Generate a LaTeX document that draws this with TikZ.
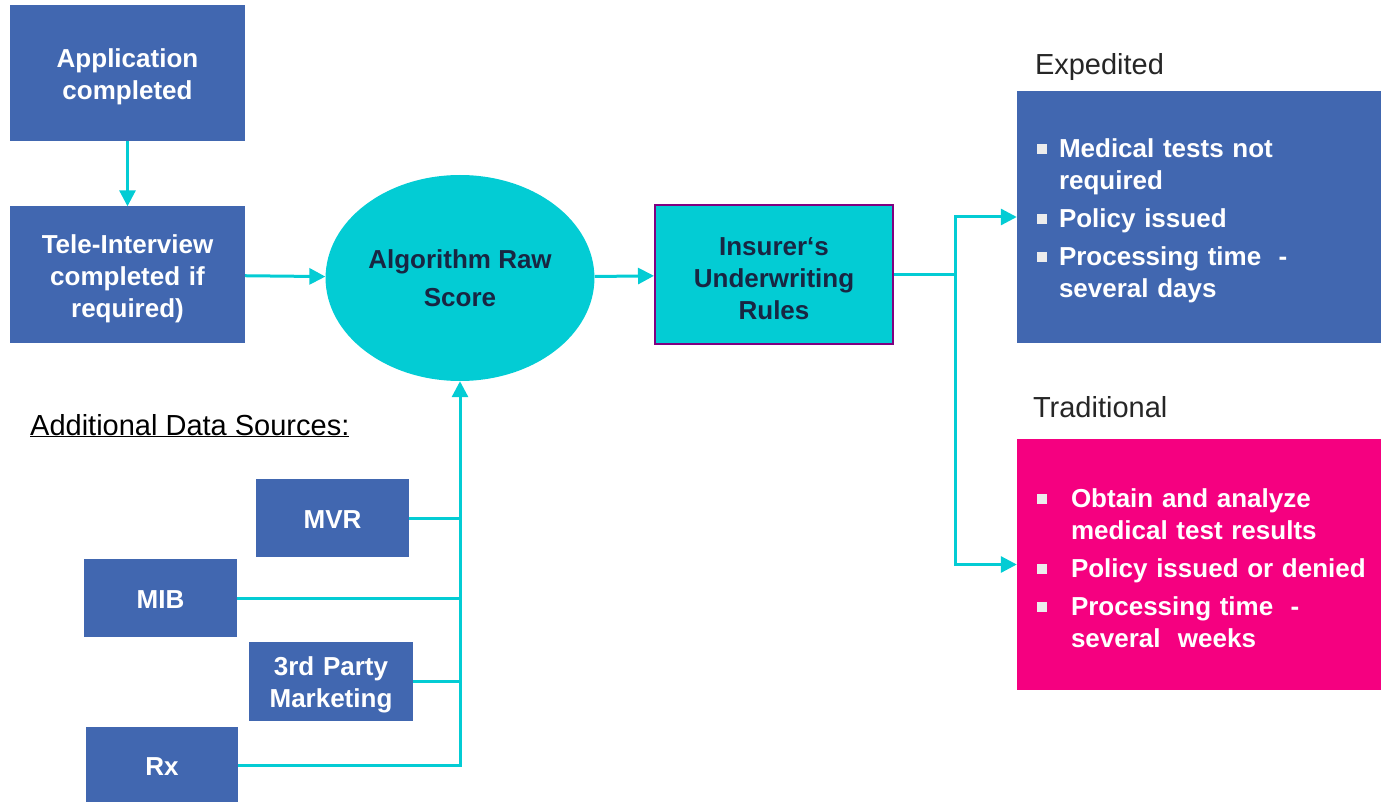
\documentclass[tikz,border=0pt]{standalone}
\usepackage{fontspec}
\setmainfont{Liberation Sans}
\usetikzlibrary{positioning, shapes.geometric, arrows.meta}

\definecolor{boxblue}{RGB}{65,103,176}
\definecolor{aqua}{RGB}{3,204,212}
\definecolor{hotpink}{RGB}{245,0,128}
\definecolor{inktext}{RGB}{24,38,66}
\definecolor{rim}{RGB}{128,0,128}
\definecolor{bulgray}{RGB}{236,236,236}
\definecolor{lblgray}{RGB}{38,38,38}

\newcommand{\sqbul}[1]{\makebox[#1][l]{\hspace*{8pt}\textcolor{bulgray}{\rule[4pt]{10pt}{10pt}}}}

\begin{document}
\begin{tikzpicture}[x = 1pt, y = -1pt,
    every node/.style = { align = center, font = \fontsize{26}{32}\selectfont\bfseries },
    boxtext/.style = { text width = #1, execute at begin node = {\rule[-6pt]{0pt}{33pt}} },
    blk/.style = { fill = boxblue, text = white },
    lbl/.style = { font = \fontsize{29}{34}\selectfont, text = lblgray, inner sep = 0pt },
    pts/.style = { boxtext = 340pt, text = white, align = left, inner xsep = 12pt, minimum width = 364pt },
    link/.style = { draw = aqua, line width = 3pt },
    arr/.style = { link, -{Triangle[length = 16pt, width = 16pt]} }]
    \useasboundingbox (0,0) rectangle (1381,802);

    \node[blk, boxtext = 215pt, minimum width = 235pt, minimum height = 136pt] (app) at (127.5,73) {Application\\completed};
    \node[blk, boxtext = 215pt, minimum width = 235pt, minimum height = 136pt] (tele) at (127.5,274.5) {Tele-Interview\\completed if\\required)};
    \node[ellipse, fill = aqua, text = inktext, minimum width = 264pt, minimum height = 206pt,
          font = \fontsize{26}{38}\selectfont\bfseries] (algo) at (460,278) {Algorithm Raw\\Score};
    \node[boxtext = 218pt, fill = aqua, draw = rim, line width = 2pt, text = inktext, minimum width = 238pt, minimum height = 139pt]
          (rules) at (774,274.5) {Insurer‘s\\Underwriting\\Rules};

    \node[pts, fill = boxblue, minimum height = 252pt] (fast) at (1199,217)
          {\sqbul{30pt}Medical tests not\\\hspace*{30pt}required\\[6pt]
           \sqbul{30pt}Policy issued\\[6pt]
           \sqbul{30pt}Processing time\ \ -\\\hspace*{30pt}several days};
    \node[pts, fill = hotpink, minimum height = 251pt] (slow) at (1199,564.5)
          {\sqbul{42pt}Obtain and analyze\\\hspace*{42pt}medical test results\\[6pt]
           \sqbul{42pt}Policy issued or denied\\[6pt]
           \sqbul{42pt}Processing time\ \ -\\\hspace*{42pt}several\ \ weeks};
    \node[lbl, above right = 10pt and 18pt of fast.north west] (fastlbl) {Expedited};
    \node[lbl, above right = 21pt and 16pt of slow.north west] (slowlbl) {Traditional};

    \node[lbl, text = black, anchor = base west] (extra) at (30,435) {\underline{Additional Data Sources:}};
    \node[blk, boxtext = 133pt, minimum width = 153pt, minimum height = 78pt] (mvr) at (332.5,518) {MVR};
    \node[blk, boxtext = 133pt, minimum width = 153pt, minimum height = 78pt] (mib) at (160.5,598) {MIB};
    \node[blk, boxtext = 144pt, minimum width = 164pt, minimum height = 79pt] (mkt) at (331,681) {3rd Party\\Marketing};
    \node[blk, boxtext = 132pt, minimum width = 152pt, minimum height = 76pt] (rx) at (162,765) {Rx};

    \draw[arr] (app) -- (tele);
    \draw[arr] (tele) -- (algo);
    \draw[arr] (algo) -- (rules);
    \coordinate (fork) at (955,274.5);
    \draw[link] (rules) -- (fork);
    \draw[arr] (fork) |- (fast);
    \draw[arr] (fork) |- (slow);
    \draw[arr] (rx) -| (algo);
    \foreach \src in {mvr, mib, mkt}
        \draw[link] (\src) -- (\src -| algo);
\end{tikzpicture}
\end{document}
